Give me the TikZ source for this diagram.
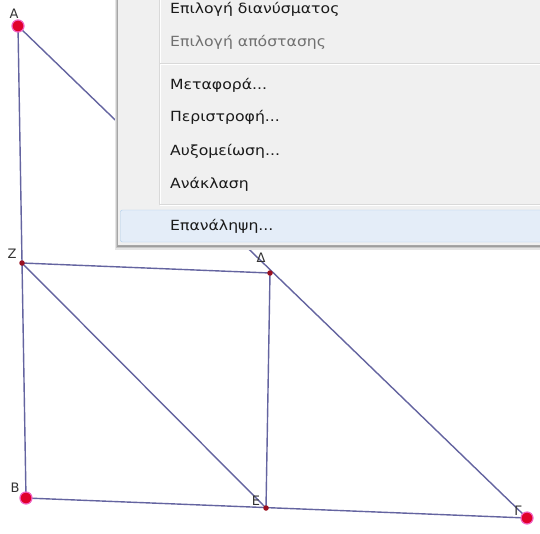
\documentclass[tikz,border=0pt]{standalone}
\usepackage{fontspec}
\setmainfont[FakeStretch=1.12]{DejaVu Sans}
\newfontfamily\lblfont{DejaVu Sans}
\definecolor{segcol}{HTML}{6464A0}
\definecolor{menubg}{HTML}{F0F0F0}
\definecolor{menutext}{HTML}{1A1A1A}
\definecolor{menugrey}{HTML}{707070}
\definecolor{hlfill}{HTML}{E4EDF8}
\definecolor{hlborder}{HTML}{A9CBEC}
\definecolor{bigpt}{HTML}{E0002A}
\definecolor{halo}{HTML}{F060C0}
\definecolor{smallpt}{HTML}{9A1020}
\tikzset{
  seg/.style={draw=segcol, line width=1.4pt},
  bigdot/.style={circle, fill=bigpt, draw=halo, line width=1.2pt, minimum size=12pt, inner sep=0pt},
  smalldot/.style={circle, fill=smallpt, minimum size=5.5pt, inner sep=0pt},
  ptlabel/.style={font=\lblfont\fontsize{13}{14}\selectfont, text=black!80, inner sep=0pt},
  menuitem/.style={anchor=west, font=\fontsize{14}{16}\selectfont, text=menutext, inner sep=0pt},
  menudis/.style={menuitem, text=menugrey},
}
\begin{document}
\begin{tikzpicture}[x=1pt, y=-1pt]
\useasboundingbox (0,0) rectangle (540,533);
\fill[white] (0,0) rectangle (540,533);
% points
\coordinate (A) at (18,26);
\coordinate (B) at (26,498);
\coordinate (G) at (527,518);
\coordinate (Z) at (22,263);
\coordinate (D) at (270,273);
\coordinate (E) at (266,508);
% segments
\draw[seg] (A) -- (B);
\draw[seg] (A) -- (G);
\draw[seg] (B) -- (G);
\draw[seg] (Z) -- (D);
\draw[seg] (Z) -- (E);
\draw[seg] (D) -- (E);
% dots
\node[bigdot] (dA) at (A) {};
\node[bigdot] (dB) at (B) {};
\node[bigdot] (dG) at (G) {};
\node[smalldot] (dZ) at (Z) {};
\node[smalldot] (dD) at (D) {};
\node[smalldot] (dE) at (E) {};
% labels
\node[ptlabel] (lA) at (14,14) {A};
\node[ptlabel] (lZ) at (12,254) {Z};
\node[ptlabel] (lD) at (261,258) {Δ};
\node[ptlabel] (lB) at (15,488) {B};
\node[ptlabel] (lE) at (256,501) {E};
\node[ptlabel] (lG) at (518,511) {Γ};
% menu shadow
\fill[black!10] (115,-5) rectangle (545,250);
\fill[black!22] (116,-5) rectangle (545,248);
\fill[black!38] (117,-5) rectangle (545,246.5);
% menu body
\fill[menubg] (117,-5) rectangle (545,245);
\draw[black!35] (117,-5) -- (117,245) -- (545,245);
% icon column separator
\draw[black!15] (159.5,-5) -- (159.5,205);
\draw[white] (160.5,-5) -- (160.5,205);
% horizontal separators
\draw[black!15] (160,63) -- (545,63);
\draw[white] (160,64) -- (545,64);
\draw[black!15] (160,204.5) -- (545,204.5);
\draw[white] (160,205.5) -- (545,205.5);
% highlight
\draw[hlborder, fill=hlfill, rounded corners=2pt] (120.5,210) rectangle (560,242);
% menu items
\node[menuitem] (m1) at (170,9) {Επιλογή διανύσματος};
\node[menudis] (m2) at (170,42) {Επιλογή απόστασης};
\node[menuitem] (m3) at (170,85) {Μεταφορά...};
\node[menuitem] (m4) at (170,117) {Περιστροφή...};
\node[menuitem] (m5) at (170,151) {Αυξομείωση...};
\node[menuitem] (m6) at (170,184) {Ανάκλαση};
\node[menuitem] (m7) at (170,226) {Επανάληψη...};
\end{tikzpicture}
\end{document}
